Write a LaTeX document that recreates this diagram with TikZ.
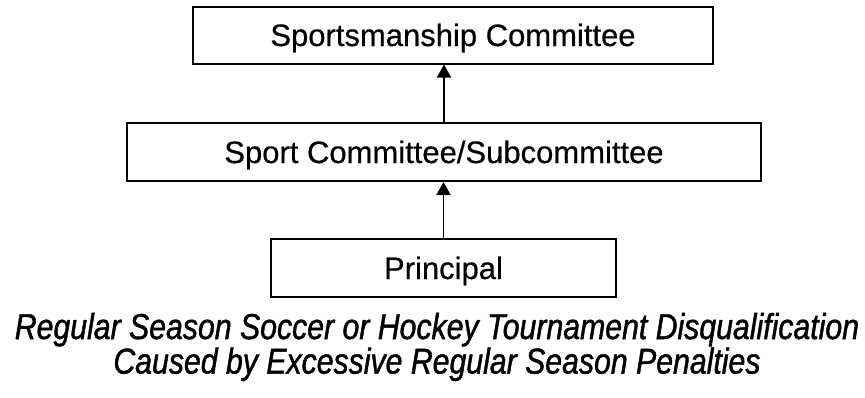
\documentclass[tikz,border=0pt]{standalone}
\usepackage{fontspec}
\setmainfont{Liberation Sans}
\newfontfamily\boxfont[FakeBold=0.5]{Liberation Sans}
\newfontfamily\capfont[FakeStretch=0.84,FakeBold=1.2]{Liberation Sans}
\usetikzlibrary{arrows.meta}
\begin{document}
\begin{tikzpicture}[x=1pt,y=-1pt,
  box/.style={draw=black,line width=2pt,fill=white,inner sep=0pt,
    font=\boxfont\fontsize{31}{36}\selectfont,text height=22pt,text depth=0pt},
  conn/.style={line width=1.6pt,-{Triangle[length=13pt,width=14pt]}}]
\useasboundingbox (0,0) rectangle (865,397);
\node[box,minimum width=520pt,minimum height=57pt] (top) at (453,35) {Sportsmanship Committee};
\node[box,minimum width=634pt,minimum height=58pt] (mid) at (444,152) {Sport Committee/Subcommittee};
\node[box,minimum width=345pt,minimum height=58pt] (bot) at (443.5,268) {Principal};
\draw[conn] (mid.north) -- (mid.north |- top.south);
\draw[conn] (bot.north) -- (bot.north |- mid.south);
\node[align=center,inner sep=0pt,font=\capfont\itshape\fontsize{36}{32}\selectfont] (cap) at (437,347)
  {Regular Season Soccer or Hockey Tournament Disqualification\\Caused by Excessive Regular Season Penalties};
\end{tikzpicture}
\end{document}
